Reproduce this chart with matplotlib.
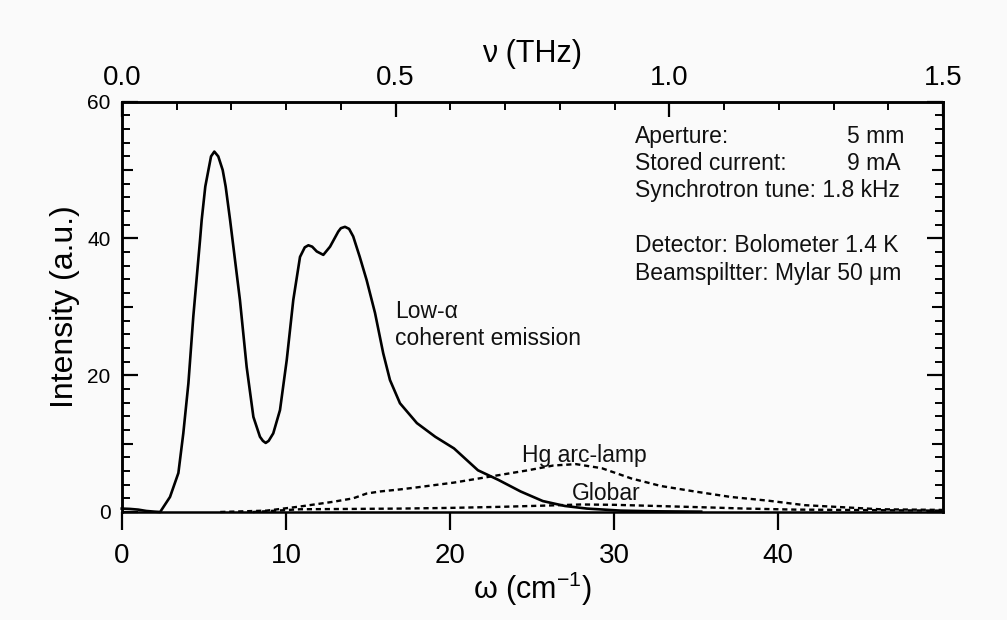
import matplotlib
matplotlib.use("Agg")
import matplotlib.pyplot as plt
from matplotlib.ticker import MultipleLocator, FixedLocator, NullFormatter

plt.rcParams['font.family'] = ['Liberation Sans', 'DejaVu Sans']
plt.rcParams['mathtext.fontset'] = 'custom'
plt.rcParams['mathtext.rm'] = 'Liberation Sans'
plt.rcParams['mathtext.it'] = 'Liberation Sans'

# ---------------- data ----------------
omega_coh = [0, 0.5, 1.0, 1.5, 2.0, 2.34, 2.94, 3.45, 3.75, 4.06, 4.36, 4.77, 4.87, 5.09,
             5.28, 5.44, 5.64, 5.88, 6.15, 6.33, 6.6, 7.2, 7.61, 8.02, 8.42, 8.6, 8.77,
             8.95, 9.23, 9.64, 10.05, 10.45, 10.86, 11.15, 11.37, 11.6, 11.88, 12.28,
             12.69, 13.19, 13.35, 13.6, 13.85, 14.1, 14.5, 14.92, 15.43, 15.93, 16.34,
             16.95, 17.98, 19.1, 20.24, 21.7, 22.94, 24.3, 25.65, 27.0, 28.34, 30.4,
             32.5, 35.3]
int_coh = [0.5, 0.45, 0.35, 0.15, 0.05, 0.0, 2.2, 5.7, 11.5, 18.8, 28.6, 39.8, 42.7, 47.6,
           50.0, 52.0, 52.7, 52.0, 50.0, 47.6, 42.7, 31.0, 21.2, 13.9, 11.0, 10.4, 10.1,
           10.4, 11.5, 14.9, 22.2, 31.0, 37.3, 38.7, 39.0, 38.8, 38.1, 37.6,
           38.8, 41.0, 41.5, 41.7, 41.4, 40.3, 37.3, 33.9, 29.1, 23.2, 19.3,
           15.9, 13.0, 11.0, 9.3, 6.1, 4.7, 3.0, 1.6, 0.88, 0.5, 0.2,
           0.1, 0.05]

omega_hg = [6.0, 8.83, 10.86, 12.9, 14.1, 14.92, 15.73, 16.95, 17.98, 20.24, 22.5, 24.75,
            26.3, 27.67, 29.25, 31.05, 32.85, 34.9, 37.1, 39.4, 41.6, 43.9, 46.2, 48.0, 50.0]
int_hg = [0.0, 0.2, 0.8, 1.5, 2.0, 2.7, 3.0, 3.3, 3.6, 4.3, 5.2, 6.1,
          6.8, 7.0, 6.4, 4.9, 3.8, 3.0, 2.2, 1.65, 1.0, 0.7, 0.4, 0.35, 0.3]

omega_gl = [8.0, 10.86, 14.0, 17.0, 20.0, 23.0, 26.0, 28.0, 30.0, 33.0, 36.0, 38.0,
            41.0, 44.0, 47.0, 50.0]
int_gl = [0.0, 0.4, 0.45, 0.5, 0.6, 0.75, 0.95, 1.1, 1.05, 0.85, 0.65, 0.5,
          0.35, 0.3, 0.25, 0.2]

x_ticks = [0, 10, 20, 30, 40]
y_ticks = [0, 20, 40, 60]
thz_ticks = [0.0, 0.5, 1.0, 1.5]
thz_labels = ['0.0', '0.5', '1.0', '1.5']

info_lines = ['Aperture:', 'Stored current:', 'Synchrotron tune: 1.8 kHz',
              'Detector: Bolometer 1.4 K', 'Beamspiltter: Mylar 50 \u03bcm']
info_values = ['5 mm', '9 mA']

# ---------------- figure ----------------
CM_TO_THZ = 0.0299792458
bg = '#fafafa'
fig = plt.figure(figsize=(10.07, 6.20), dpi=100, facecolor=bg)
ax = fig.add_axes([0.1209, 0.1742, 0.8156, 0.6618])
ax.set_facecolor(bg)

lw_spine = 1.8
ax.plot(omega_coh, int_coh, color='black', lw=1.9, clip_on=False, zorder=3,
        solid_joinstyle='round')
ax.plot(omega_hg, int_hg, color='black', lw=1.7, linestyle=(0, (2.2, 1.6)), clip_on=False)
ax.plot(omega_gl, int_gl, color='black', lw=1.7, linestyle=(0, (2.2, 1.6)), clip_on=False)

ax.set_xlim(0, 1.5 / CM_TO_THZ)
ax.set_ylim(0, 60)

for s in ax.spines.values():
    s.set_linewidth(lw_spine)

# bottom axis
ax.xaxis.set_major_locator(FixedLocator(x_ticks))
ax.tick_params(axis='x', which='major', direction='out', length=13, width=1.6,
               labelsize=20, pad=9, top=False)
ax.tick_params(axis='x', which='minor', bottom=False, top=False)

# left / right axis
ax.yaxis.set_major_locator(FixedLocator(y_ticks))
ax.yaxis.set_minor_locator(MultipleLocator(2))
ax.tick_params(axis='y', which='major', direction='in', length=11.5, width=1.6,
               labelsize=15, pad=8, right=True)
ax.tick_params(axis='y', which='minor', direction='in', length=5.5, width=1.4, right=True)

# medium ticks at 10, 30, 50 on both sides
for side in ('left', 'right'):
    sec = ax.secondary_yaxis(side)
    sec.yaxis.set_major_locator(FixedLocator([10, 30, 50]))
    sec.yaxis.set_major_formatter(NullFormatter())
    sec.tick_params(axis='y', direction='in', length=8, width=1.5)
    sec.spines[side].set_linewidth(lw_spine)

# top axis in THz
top = ax.secondary_xaxis('top', functions=(lambda w: w * CM_TO_THZ, lambda v: v / CM_TO_THZ))
top.xaxis.set_major_locator(FixedLocator(thz_ticks))
top.set_xticklabels(thz_labels)
top.xaxis.set_minor_locator(MultipleLocator(0.1))
top.tick_params(axis='x', which='major', direction='in', length=11, width=1.6,
                labelsize=20, pad=8)
top.tick_params(axis='x', which='minor', direction='in', length=6, width=1.4)
top.spines['top'].set_linewidth(lw_spine)
top.set_xlabel('\u03bd (THz)', fontsize=22, labelpad=2)

ax.set_xlabel('\u03c9 (cm$^{-1}$)', fontsize=22, labelpad=1)
ax.set_ylabel('Intensity (a.u.)', fontsize=23, labelpad=5)

# information block
tc = '#111111'
base_y = [0.8986, 0.8335, 0.7685, 0.6344, 0.5654]
for txt, yy in zip(info_lines, base_y):
    ax.text(0.625, yy, txt, transform=ax.transAxes, fontsize=16.5, va='baseline',
            ha='left', color=tc)
for txt, yy in zip(info_values, base_y[:2]):
    ax.text(0.8831, yy, txt, transform=ax.transAxes, fontsize=16.5, va='baseline',
            ha='left', color=tc)

# curve labels
ax.text(16.64, 28.3, 'Low-\u03b1', fontsize=16.5, va='baseline', ha='left', color=tc)
ax.text(16.64, 24.4, 'coherent emission', fontsize=16.5, va='baseline', ha='left', color=tc)
ax.text(24.4, 7.36, 'Hg arc-lamp', fontsize=16.5, va='baseline', ha='left', color=tc)
ax.text(27.45, 1.75, 'Globar', fontsize=16.5, va='baseline', ha='left', color=tc)

fig.savefig('out.png', dpi=100, facecolor=bg)
